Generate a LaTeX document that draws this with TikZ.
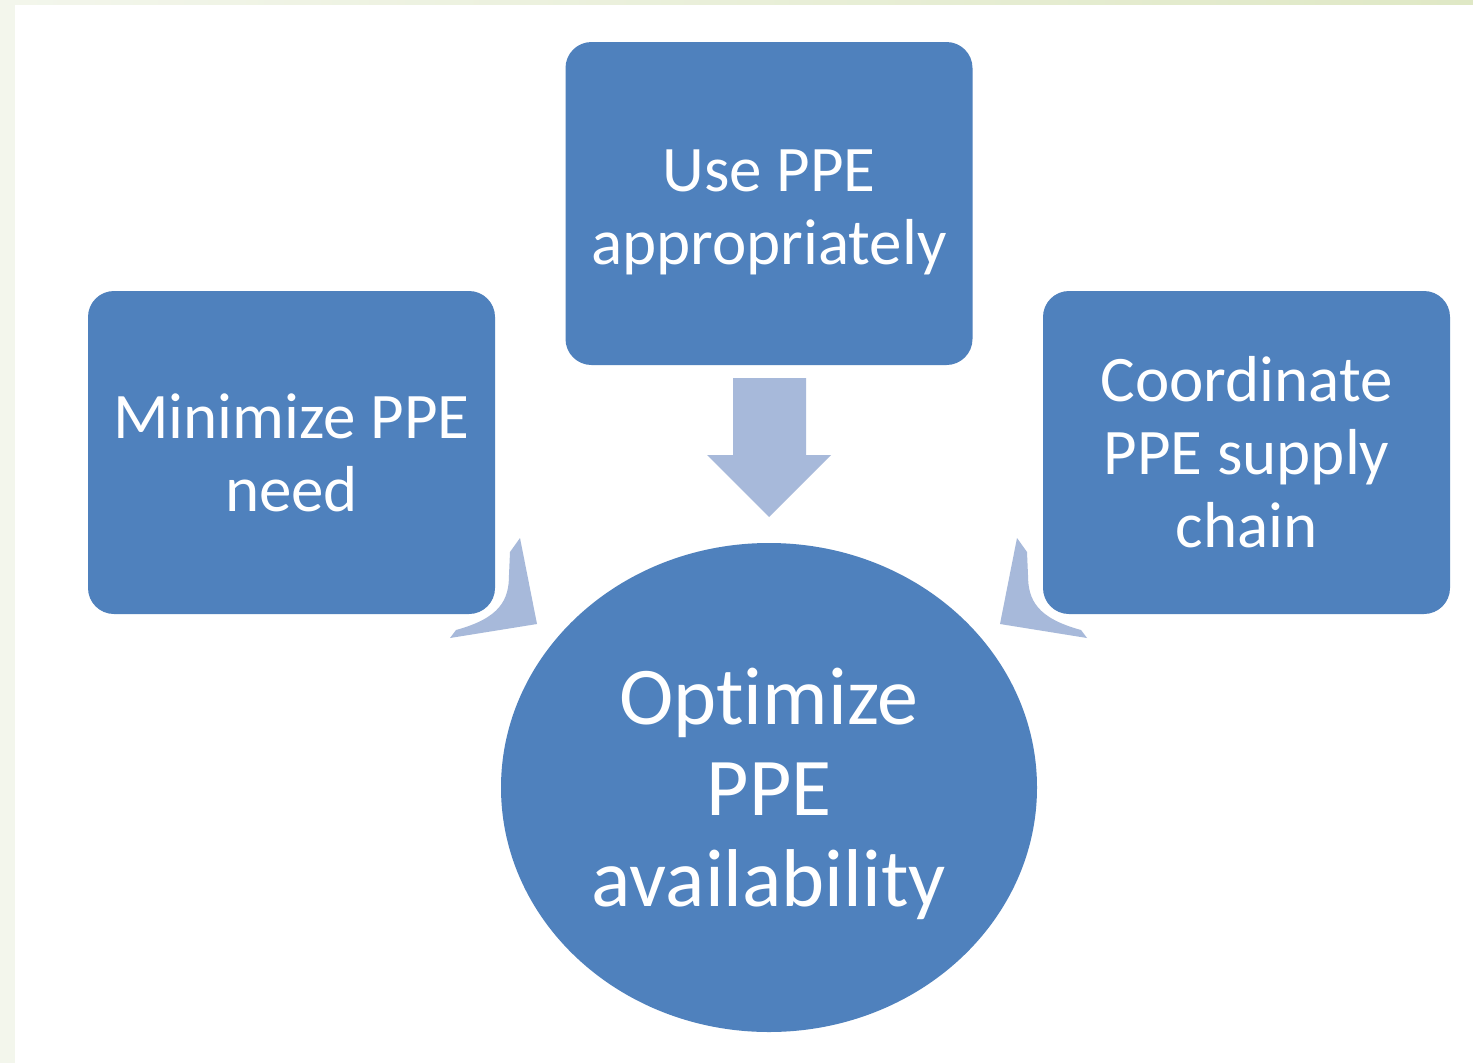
\documentclass[tikz,border=0pt]{standalone}
\usepackage{fontspec}
\setmainfont[Ligatures=NoCommon]{Carlito}
\usetikzlibrary{shapes.geometric}
\definecolor{boxblue}{HTML}{4F81BD}
\definecolor{arrowblue}{HTML}{A7B9DA}
\definecolor{bgleft}{HTML}{F3F6EC}
\definecolor{bgright}{HTML}{DFE8C5}
\tikzset{
  box/.style={rectangle, rounded corners=26pt, fill=boxblue, draw=none,
    minimum width=407pt, minimum height=323pt, text=white, align=center,
    font=\fontsize{65}{73}\selectfont, inner sep=0pt},
  hub/.style={ellipse, fill=boxblue, draw=none, minimum width=536pt,
    minimum height=489pt, text=white, align=center,
    font=\fontsize{82}{91}\selectfont, inner sep=0pt},
  arr/.style={fill=arrowblue, draw=none}
}
\begin{document}
\begin{tikzpicture}[x=1pt,y=-1pt]
\useasboundingbox (0,0) rectangle (1473,1063);
\fill[bgleft] (0,0) rectangle (1473,1063);
\shade[left color=bgleft, right color=bgright] (0,0) rectangle (1473,5);
\fill[white] (15,5) rectangle (1473,1063);
% nodes
\node[box] (use) at (769,203.5) {\rule{0pt}{60pt}Use PPE\\appropriately};
\node[box] (min) at (291.5,452.5) {Minimize PPE\\need};
\node[box] (coord) at (1246.5,452.5) {Coordinate\\PPE supply\\chain};
\node[hub] (opt) at (769,787.5) {\rule{0pt}{70pt}Optimize\\PPE\\availability};
% down arrow
\fill[arr] (733,378) -- (806,378) -- (806,455) -- (831,455) -- (769,517)
  -- (707,455) -- (733,455) -- cycle;
% left curved arrow
\fill[arr] (520,538) -- (537,624) -- (450,638) -- (456,630)
  .. controls (500,618) and (509,600) .. (509,575) -- (510,552) -- cycle;
% right curved arrow
\fill[arr] (1017,538) -- (1000,624) -- (1087,638) -- (1081,630)
  .. controls (1037,618) and (1028,600) .. (1028,575) -- (1027,552) -- cycle;
\end{tikzpicture}
\end{document}
